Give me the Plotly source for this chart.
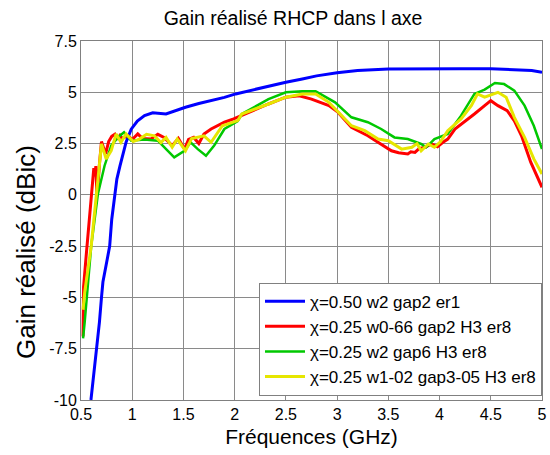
import plotly.graph_objects as go

# ---- data ----
blue_f = [0.597, 0.63, 0.655, 0.68, 0.70, 0.714, 0.75, 0.78, 0.80, 0.83, 0.85, 0.88, 0.94, 0.99, 1.05,
          1.12, 1.2, 1.33, 1.42, 1.52, 1.65, 1.77, 1.9, 2.01, 2.2, 2.35, 2.5, 2.66, 2.8, 3.0, 3.2,
          3.5, 3.8, 4.2, 4.5, 4.8, 4.9, 5.0]
blue_g = [-10, -8.5, -7.5, -6.2, -5.0, -4.25, -3.3, -2.5, -1.2, 0.0, 0.77, 1.4, 2.57, 3.2, 3.6,
          3.86, 4.0, 3.94, 4.1, 4.27, 4.45, 4.59, 4.75, 4.92, 5.15, 5.3, 5.49, 5.65, 5.8, 5.95, 6.06,
          6.13, 6.15, 6.15, 6.15, 6.1, 6.06, 5.97]

red_f = [0.52, 0.525, 0.55, 0.58, 0.61, 0.625, 0.635, 0.645, 0.655, 0.665, 0.68, 0.70, 0.72, 0.74,
         0.77, 0.8, 0.83, 0.85, 0.88, 0.9, 0.957, 1.0, 1.054, 1.1, 1.183, 1.25, 1.31, 1.39, 1.45,
         1.51, 1.55, 1.6, 1.65, 1.70, 1.77, 1.9, 1.99, 2.17, 2.33, 2.5, 2.63, 2.75, 2.92, 3.01,
         3.14, 3.3, 3.43, 3.53, 3.6, 3.69, 3.72, 3.76, 3.8, 3.86, 3.92, 3.98, 4.03, 4.08, 4.15,
         4.24, 4.34, 4.44, 4.5, 4.57, 4.66, 4.73, 4.8, 4.89, 5.0]
red_g = [-6.9, -4.5, -3.0, -1.2, 0.5, 1.3, 0.9, 1.4, 0.0, 0.4, 1.5, 2.6, 2.3, 2.0,
         2.6, 2.85, 2.95, 2.7, 2.9, 2.75, 2.88, 2.7, 2.97, 2.75, 2.72, 2.95, 2.8, 2.4, 2.75,
         2.23, 2.7, 2.8, 2.5, 2.97, 3.21, 3.54, 3.7, 4.1, 4.43, 4.76, 4.83, 4.67, 4.35, 4.02,
         3.29, 2.88, 2.48, 2.15, 2.05, 1.99, 2.1, 2.07, 2.25, 2.32, 2.48, 2.35, 2.55, 2.72, 3.21,
         3.54, 3.94, 4.35, 4.59, 4.35, 4.1, 3.61, 2.88, 1.59, 0.37]

green_f = [0.52, 0.536, 0.6, 0.665, 0.73, 0.795, 0.86, 0.92, 0.99, 1.12, 1.25, 1.35, 1.41, 1.51,
           1.57, 1.64, 1.72, 1.8, 1.9, 2.03, 2.07, 2.33, 2.5, 2.66, 2.79, 2.98, 3.14, 3.3, 3.43,
           3.56, 3.69, 3.82, 3.87, 3.95, 4.08, 4.21, 4.34, 4.44, 4.54, 4.63, 4.73, 4.83, 4.92, 5.0]
green_g = [-7.0, -6.2, -2.48, 0.04, 1.42, 2.4, 2.8, 3.05, 2.64, 2.7, 2.64, 2.15, 1.83, 2.15,
           2.56, 2.23, 1.91, 2.4, 3.21, 3.6, 3.94, 4.67, 5.0, 5.05, 5.05, 4.51, 3.78, 3.54, 3.21,
           2.8, 2.72, 2.48, 2.32, 2.72, 2.97, 3.86, 4.92, 5.13, 5.45, 5.4, 5.08, 4.35, 3.37, 2.23]

yellow_f = [0.52, 0.536, 0.6, 0.65, 0.68, 0.70, 0.746, 0.795, 0.843, 0.89, 0.94, 0.957, 1.01, 1.07,
            1.14, 1.216, 1.28, 1.33, 1.39, 1.44, 1.52, 1.58, 1.64, 1.70, 1.77, 1.88, 2.03, 2.07,
            2.33, 2.5, 2.66, 2.79, 2.92, 3.05, 3.14, 3.27, 3.4, 3.5, 3.63, 3.73, 3.78, 3.82, 3.89,
            3.95, 4.01, 4.08, 4.21, 4.31, 4.37, 4.44, 4.57, 4.65, 4.73, 4.83, 4.92, 5.0]
yellow_g = [-5.6, -4.75, -2.48, 0.12, 1.59, 2.48, 1.75, 2.15, 2.97, 2.56, 2.97, 2.88, 2.6, 2.72,
            2.95, 2.88, 2.55, 2.8, 2.32, 2.72, 2.15, 2.75, 2.8, 2.88, 2.56, 3.37, 3.62, 3.94,
            4.43, 4.76, 4.92, 4.92, 4.51, 3.86, 3.37, 3.13, 2.72, 2.64, 2.23, 2.32, 2.5, 2.15, 2.48,
            2.32, 2.6, 3.13, 3.7, 4.35, 4.92, 4.76, 5.0, 4.76, 3.78, 2.8, 1.75, 1.02]

names = ["χ=0.50 w2 gap2 er1",
         "χ=0.25 w0-66 gap2 H3 er8",
         "χ=0.25 w2 gap6 H3 er8",
         "χ=0.25 w1-02 gap3-05 H3 er8"]
colors = ["#0000ff", "#ff0000", "#00c800", "#e6e600"]

x_tickvals = [0.5, 1, 1.5, 2, 2.5, 3, 3.5, 4, 4.5, 5]
x_ticktext = ["0.5", "1", "1.5", "2", "2.5", "3", "3.5", "4", "4.5", "5"]
y_tickvals = [7.5, 5, 2.5, 0, -2.5, -5, -7.5, -10]
y_ticktext = ["7.5", "5", "2.5", "0", "-2.5", "-5", "-7.5", "-10"]

series = [(blue_f, blue_g), (red_f, red_g), (green_f, green_g), (yellow_f, yellow_g)]
widths = [3, 3, 2.5, 3]

fig = go.Figure()
for (fx, gy), nm, c, w in zip(series, names, colors, widths):
    fig.add_trace(go.Scatter(x=fx, y=gy, mode="lines", name=nm,
                             line=dict(color=c, width=w)))

font_family = "Liberation Sans, Arial, sans-serif"
fig.update_layout(
    width=550, height=455,
    margin=dict(l=81, r=8, t=41, b=55),
    paper_bgcolor="white", plot_bgcolor="white",
    font=dict(family=font_family, size=16, color="black"),
    title=dict(text="Gain réalisé RHCP dans l axe", x=293 / 550, xref="container", xanchor="center",
               y=1 - 18 / 455, yref="container", yanchor="middle",
               font=dict(size=19.5, color="black")),
    showlegend=True,
    legend=dict(x=1, xanchor="right", y=0.012, yanchor="bottom",
                bgcolor="white", bordercolor="#808080", borderwidth=1,
                itemwidth=40,
                font=dict(size=17, color="black"), tracegroupgap=0),
    annotations=[dict(text="Gain réalisé (dBic)", textangle=-90,
                      xref="paper", yref="paper",
                      x=(26 - 81) / 461, y=(400 - 252) / 359,
                      xanchor="center", yanchor="middle", showarrow=False,
                      font=dict(size=26, color="black"))],
)
fig.update_xaxes(range=[0.5, 5], tickvals=x_tickvals, ticktext=x_ticktext,
                 showgrid=True, gridcolor="#8a8a8a", gridwidth=1,
                 showline=True, linecolor="#808080", linewidth=1, mirror=True,
                 zeroline=False, ticks="", tickfont=dict(size=16), automargin=False,
                 title=dict(text="Fréquences (GHz)", font=dict(size=21), standoff=7))
fig.update_yaxes(range=[-10, 7.5], tickvals=y_tickvals, ticktext=y_ticktext,
                 showgrid=True, gridcolor="#8a8a8a", gridwidth=1,
                 showline=True, linecolor="#808080", linewidth=1, mirror=True,
                 zeroline=False, ticks="", tickfont=dict(size=16), automargin=False)

fig.write_html("out.html", config={"displayModeBar": False},
               post_script="document.body.style.margin='0';document.body.style.overflow='hidden';")
